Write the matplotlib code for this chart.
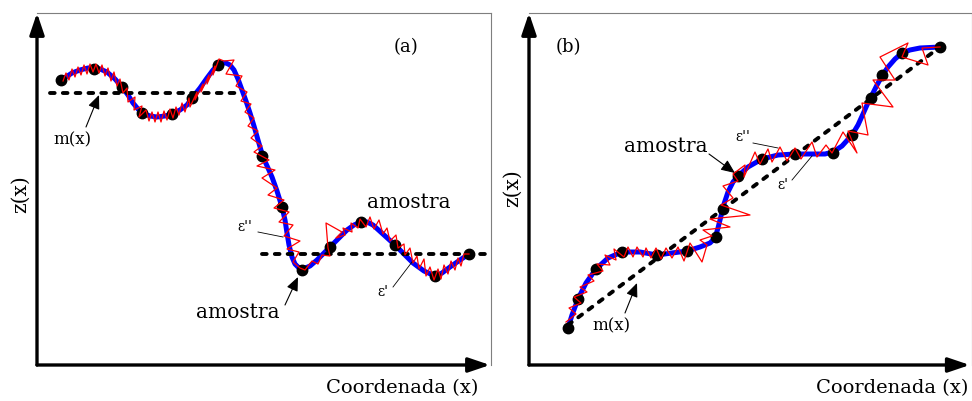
import matplotlib.pyplot as plt

plt.rcParams['font.family'] = 'DejaVu Serif'

# ---- painel (a): valores (x, z) ----
amostra_a = [(61, 80), (94, 69), (122, 87), (142, 113), (172, 114), (192, 98),
             (218, 65), (262, 156), (282, 207), (302, 270), (330, 247),
             (361, 222), (395, 245), (435, 276), (469, 254)]

curva_a = [(61, 80), (66, 77), (72, 73), (80, 70), (88, 68), (94, 68), (100, 69),
           (107, 72), (115, 79), (122, 87), (128, 95), (133, 103), (138, 109),
           (142, 113), (150, 116), (157, 117), (165, 116), (172, 114), (180, 110),
           (187, 105), (192, 98), (200, 88), (207, 78), (213, 70), (218, 65),
           (222, 63), (226, 63), (230, 65), (234, 70), (238, 79), (242, 90),
           (246, 101), (250, 113), (254, 126), (258, 140), (263, 157), (268, 168),
           (272, 177), (277, 191), (282, 207), (285, 220), (287, 233), (289, 245),
           (292, 257), (295, 264), (299, 268), (303, 269), (310, 266), (317, 260),
           (323, 254), (330, 247), (338, 239), (347, 230), (354, 225), (361, 222),
           (367, 222), (373, 225), (384, 235), (395, 245), (404, 254), (413, 263),
           (424, 271), (435, 276), (442, 273), (450, 267), (460, 260), (469, 254)]

ruido_a = [(63, 81), (66, 73), (69, 80), (72, 69), (75, 77), (78, 67), (81, 75),
           (84, 65), (87, 74), (90, 64), (93, 72), (96, 64), (99, 73), (102, 65),
           (105, 76), (108, 68), (111, 81), (114, 72), (117, 86), (120, 79),
           (123, 93), (127, 88), (128, 102), (135, 97), (134, 110), (142, 106),
           (139, 117), (146, 110), (149, 121), (152, 112), (155, 122), (158, 112),
           (161, 122), (164, 111), (167, 120), (170, 109), (173, 118), (176, 107),
           (179, 115), (182, 103), (185, 112), (189, 98), (190, 107), (197, 92),
           (195, 100), (203, 84), (201, 92), (209, 75), (207, 84), (215, 66),
           (213, 75), (219, 59), (224, 61), (234, 60), (226, 74), (242, 76),
           (236, 86), (247, 92), (241, 101), (251, 104), (245, 112), (254, 118),
           (248, 126), (258, 131), (251, 138), (262, 146), (254, 152), (269, 160),
           (257, 166), (275, 170), (262, 178), (277, 188), (268, 195), (284, 200),
           (274, 208), (289, 212), (279, 222), (293, 225), (284, 236), (300, 241),
           (287, 249), (299, 252), (293, 262), (300, 268), (305, 270), (312, 261),
           (318, 264), (322, 255), (330, 256), (328, 248), (326, 223), (342, 232),
           (336, 238), (345, 235), (343, 228), (352, 232), (351, 223), (358, 228),
           (360, 219), (366, 227), (370, 217), (374, 229), (379, 220), (383, 234),
           (387, 228), (390, 241), (396, 235), (398, 248), (404, 244), (405, 255),
           (410, 248), (413, 263), (417, 256), (419, 269), (424, 259), (426, 276),
           (430, 267), (434, 280), (438, 269), (441, 279), (444, 265), (448, 274),
           (451, 261), (455, 270), (458, 258), (461, 266), (464, 254), (469, 254)]

media_a = [((50, 240), (93, 93)), ((262, 485), (254, 254))]

# ---- painel (b) ----
amostra_b = [(568, 328), (578, 299), (596, 269), (622, 252), (657, 255),
             (687, 251), (716, 237), (723, 209), (738, 176), (762, 159),
             (795, 154), (833, 153), (852, 135), (871, 98), (882, 75),
             (902, 53), (940, 47)]

curva_b = [(568, 328), (572, 315), (578, 299), (586, 283), (596, 269), (608, 258),
           (622, 252), (640, 252), (657, 255), (672, 253), (687, 251), (700, 247),
           (710, 243), (715, 238), (718, 228), (721, 216), (724, 204), (728, 192),
           (733, 182), (738, 176), (748, 167), (762, 159), (778, 155), (795, 154),
           (815, 154), (825, 154), (833, 152), (842, 146), (852, 135), (858, 125),
           (863, 114), (867, 105), (871, 97), (877, 85), (882, 76), (888, 67),
           (895, 59), (902, 53), (910, 50), (920, 48), (940, 47)]

ruido_b = [(566, 322), (576, 314), (569, 308), (581, 303), (574, 297), (587, 292),
           (580, 287), (594, 281), (588, 275), (603, 271), (597, 264), (610, 265),
           (605, 255), (616, 260), (614, 249), (624, 257), (628, 247), (633, 257),
           (637, 247), (643, 257), (646, 248), (651, 258), (656, 248), (661, 259),
           (666, 248), (672, 258), (678, 247), (684, 261), (690, 243), (702, 262),
           (707, 245), (700, 240), (712, 236), (703, 230), (730, 227), (710, 219),
           (750, 215), (721, 205), (733, 198), (723, 186), (738, 181), (733, 174),
           (745, 165), (744, 177), (755, 152), (760, 164), (768, 149), (772, 162),
           (780, 147), (787, 161), (795, 148), (801, 159), (812, 142), (817, 157),
           (826, 145), (832, 153), (843, 132), (857, 153), (848, 131), (868, 135),
           (862, 103), (893, 107), (873, 80), (895, 80), (880, 57), (908, 43),
           (902, 57), (928, 65), (922, 48), (940, 47)]

media_b = [((568, 940), (325, 47))]


def xs(p):
    return [a for a, b in p]


def zs(p):
    return [b for a, b in p]


fig = plt.figure(figsize=(9.72, 4.01), dpi=100)


def painel(x0, x1, ponta):
    ax = fig.add_axes([x0 / 972, 36 / 401, (x1 - x0) / 972, 352 / 401])
    ax.set_xlim(x0, x1)
    ax.set_ylim(365, 13)
    ax.set_xticks([])
    ax.set_yticks([])
    for s in ['left', 'bottom']:
        ax.spines[s].set_visible(False)
    for s in ['top', 'right']:
        ax.spines[s].set_color('#7f7f7f')
        ax.spines[s].set_linewidth(0.8)
    seta = dict(arrowstyle='-|>,head_length=0.65,head_width=0.22', lw=2.4,
                color='black', mutation_scale=20, shrinkA=0, shrinkB=0)
    ax.annotate('', xy=(0, 1), xytext=(0, 0), xycoords='axes fraction',
                arrowprops=seta, annotation_clip=False)
    ax.annotate('', xy=(ponta, 0), xytext=(0, 0), xycoords='axes fraction',
                arrowprops=seta, annotation_clip=False)
    return ax


def desenha(ax, curva, amostra, ruido, media):
    ax.plot(xs(curva), zs(curva), color='#0000ff', lw=3.6, zorder=2,
            solid_capstyle='round')
    ax.plot(xs(amostra), zs(amostra), 'o', color='black', ms=7.5, zorder=3)
    for mx, mz in media:
        ax.plot(mx, mz, color='black', lw=2.8, dashes=(1.2, 2.1),
                dash_capstyle='round', zorder=3.5)
    ax.plot(xs(ruido), zs(ruido), color='red', lw=0.9, zorder=4)


def seta_fina(ax, ponta, cauda):
    ax.annotate('', xy=ponta, xytext=cauda,
                arrowprops=dict(arrowstyle='-|>,head_length=0.7,head_width=0.3',
                                lw=0.8, color='black', mutation_scale=12,
                                shrinkA=0, shrinkB=0))


def traco(ax, a, b):
    ax.plot([a[0], b[0]], [a[1], b[1]], color='black', lw=0.6, zorder=5)


ax_a = painel(37, 491, 453 / 454)
desenha(ax_a, curva_a, amostra_a, ruido_a, media_a)
ax_a.text(406, 47, '(a)', fontsize=13, ha='center', va='center')
ax_a.text(72, 140, 'm(x)', fontsize=12, ha='center', va='center')
seta_fina(ax_a, (99, 95), (86, 127))
ax_a.text(409, 202, 'amostra', fontsize=14.5, ha='center', va='center')
ax_a.text(238, 312, 'amostra', fontsize=14.5, ha='center', va='center')
seta_fina(ax_a, (298, 277), (285, 305))
ax_a.text(245, 227, "ε''", fontsize=10, ha='center', va='center')
traco(ax_a, (258, 232), (283, 237))
ax_a.text(383, 292, "ε'", fontsize=10, ha='center', va='center')
traco(ax_a, (393, 287), (412, 262))

ax_b = painel(529, 972, 0.995)
desenha(ax_b, curva_b, amostra_b, ruido_b, media_b)
ax_b.text(568, 47, '(b)', fontsize=13, ha='center', va='center')
ax_b.text(611, 326, 'm(x)', fontsize=12, ha='center', va='center')
seta_fina(ax_b, (637, 283), (625, 313))
ax_b.text(666, 146, 'amostra', fontsize=14.5, ha='center', va='center')
seta_fina(ax_b, (735, 173), (709, 154))
ax_b.text(743, 137, "ε''", fontsize=10, ha='center', va='center')
traco(ax_b, (753, 143), (778, 148))
ax_b.text(783, 185, "ε'", fontsize=10, ha='center', va='center')
traco(ax_b, (792, 180), (812, 156))

fig.text(20 / 972, 1 - 194 / 401, 'z(x)', fontsize=14.5, rotation=90,
         ha='center', va='center')
fig.text(512 / 972, 1 - 188 / 401, 'z(x)', fontsize=14.5, rotation=90,
         ha='center', va='center')
fig.text(478 / 972, 1 - 388 / 401, 'Coordenada (x)', fontsize=14,
         ha='right', va='center')
fig.text(968 / 972, 1 - 388 / 401, 'Coordenada (x)', fontsize=14,
         ha='right', va='center')

fig.savefig('out.png', dpi=100, facecolor='white')
